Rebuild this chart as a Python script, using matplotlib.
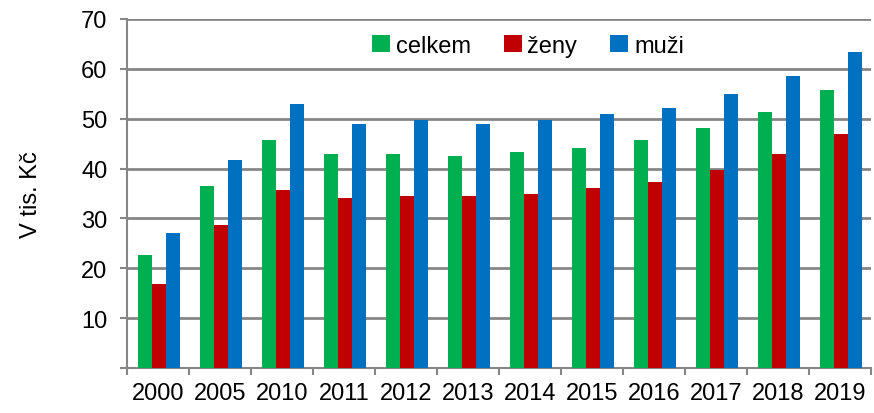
import numpy as np
import matplotlib.pyplot as plt

plt.rcParams['font.family'] = ['Liberation Sans', 'DejaVu Sans']

# data (tis. Kč)
roky = ['2000', '2005', '2010', '2011', '2012', '2013', '2014', '2015', '2016', '2017', '2018', '2019']
celkem = [22.6, 36.5, 45.7, 42.9, 42.9, 42.5, 43.3, 44.1, 45.7, 48.1, 51.3, 55.7]
zeny = [16.9, 28.6, 35.7, 34.1, 34.5, 34.5, 34.9, 36.1, 37.3, 39.7, 42.9, 46.9]
muzi = [27.0, 41.7, 52.9, 48.9, 49.7, 48.9, 49.7, 50.9, 52.1, 54.9, 58.5, 63.3]

fig = plt.figure(figsize=(8.74, 4.14), dpi=100)
ax = fig.add_axes([127/874, 1-369/414, 744/874, 349/414])

x = np.arange(len(roky))
w = 0.225
ax.bar(x - w + 0.02, celkem, w, color='#00B050', label='celkem', zorder=3)
ax.bar(x + 0.02, zeny, w, color='#C00000', label='ženy', zorder=3)
ax.bar(x + w + 0.02, muzi, w, color='#0070C0', label='muži', zorder=3)

ax.set_xlim(-0.5, len(roky) - 0.5)
ax.set_ylim(0, 70)
ax.set_yticks(np.arange(0, 71, 10))
ax.set_yticklabels([''] + [str(v) for v in range(10, 71, 10)])
ax.yaxis.grid(True, color='#868686', linewidth=2, zorder=0)
ax.set_axisbelow(True)

ax.set_xticks(x)
ax.set_xticklabels(roky)
ax.set_xticks(np.arange(-0.5, len(roky)), minor=True)
ax.tick_params(axis='x', which='major', length=0, pad=10, labelsize=17)
ax.tick_params(axis='x', which='minor', length=5, width=1.5, color='#868686')
ax.tick_params(axis='y', length=5, width=1.5, color='#868686', pad=9, labelsize=17)

for s in ['top', 'right']:
    ax.spines[s].set_visible(False)
for s in ['left', 'bottom']:
    ax.spines[s].set_color('#868686')
    ax.spines[s].set_linewidth(1.5)

ax.set_ylabel('V tis. Kč', fontsize=17, labelpad=28)

fig.legend(loc='center', bbox_to_anchor=(528/874, 1-47/414), ncol=3, frameon=False,
           fontsize=17, handlelength=0.75, handleheight=0.75, handletextpad=0.25,
           columnspacing=1.4)

fig.savefig('out.png', dpi=100)
